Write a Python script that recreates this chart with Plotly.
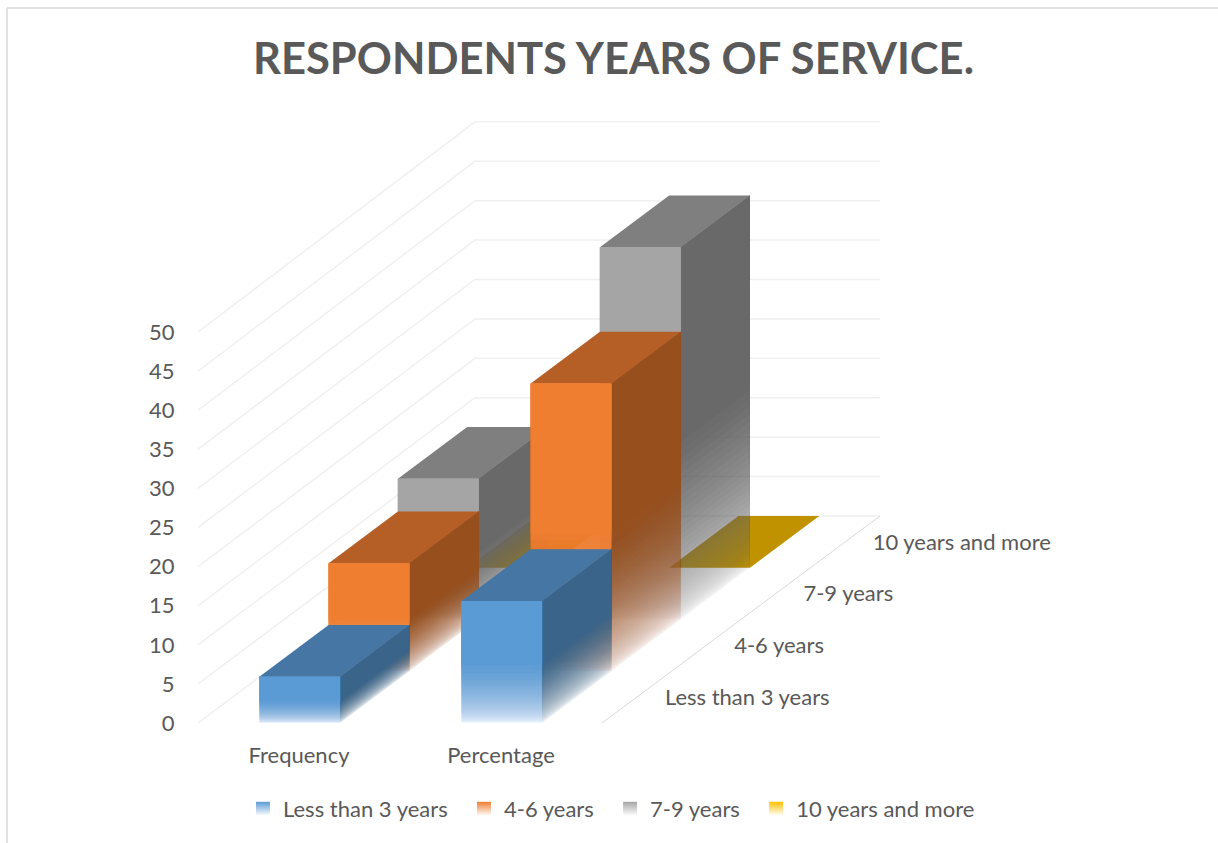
import plotly.graph_objects as go

# Chart content
title_text = "RESPONDENTS YEARS OF SERVICE."
categories = ["Frequency", "Percentage"]
series_names = ["Less than 3 years", "4-6 years", "7-9 years", "10 years and more"]
less_than_3 = [5.9, 15.6]
four_to_six = [13.8, 36.8]
seven_to_nine = [18, 47.6]
ten_and_more = [0, 0]
value_ticks = [0, 5, 10, 15, 20, 25, 30, 35, 40, 45, 50]

series_values = [less_than_3, four_to_six, seven_to_nine, ten_and_more]

# Face colours per series: front, top, side
front_colors = ["#5B9BD5", "#EF7E31", "#A5A5A5", "#FFC000"]
top_colors = ["#4676A3", "#B55F26", "#7F7F7F", "#C09200"]
side_colors = ["#3A6489", "#974F1D", "#696969", "#967000"]

TEXT = "#595959"
GRID = "#F0F0F0"
FONT = "Lato"

# Oblique projection: one depth step moves right (axis units) and up (value units)
PX_X = 202.0
PX_Y = 7.82
DEPTH_X = 69.25 / PX_X
DEPTH_Y = 51.75 / PX_Y
BAR_CENTER = 0.004
HALF_BAR = 0.2
WALL_LEFT = -0.5
WALL_RIGHT = 2.876
BACK_WALL_STRETCH = 1.008
FLOOR_RIGHT = 1.5
DEPTHS = len(series_names)
FADE_LAYERS = 40
FADE_POWER = 0.55

PLOT_LEFT = 198
PLOT_BOTTOM = 723
WIDTH, HEIGHT = 1218, 843


def hex_rgba(color, alpha):
    r, g, b = (int(color[i:i + 2], 16) for i in (1, 3, 5))
    return f"rgba({r},{g},{b},{alpha:.4f})"


def polygon(xs, ys, color):
    return go.Scatter(
        x=xs + xs[:1], y=ys + ys[:1], mode="lines", fill="toself", fillcolor=color,
        line=dict(width=0), hoverinfo="skip", showlegend=False,
    )


def fading_face(fig, quad, height, color):
    """Stack nested translucent quads so the lower half of a face fades out without seams."""
    fade = height / 2
    previous = 0.0
    for i in range(FADE_LAYERS):
        target = (i + 1) / FADE_LAYERS
        alpha = 1 - (1 - target) / (1 - previous)
        previous = target
        # Opacity rises steeply just above the floor and levels off towards the solid part
        level = fade * (i / FADE_LAYERS) ** (1 / FADE_POWER)
        xs, ys = quad(level)
        fig.add_trace(polygon(xs, ys, hex_rgba(color, alpha)))


fig = go.Figure()

# Side wall and back wall gridlines
for v in value_ticks:
    back_x = WALL_LEFT + DEPTHS * DEPTH_X
    back_y = v * BACK_WALL_STRETCH + DEPTHS * DEPTH_Y
    fig.add_trace(go.Scatter(
        x=[WALL_LEFT, back_x, WALL_RIGHT],
        y=[v, back_y, back_y], mode="lines",
        line=dict(color=GRID, width=1.5), hoverinfo="skip", showlegend=False,
    ))

# Right edge of the floor
fig.add_trace(go.Scatter(
    x=[FLOOR_RIGHT, WALL_RIGHT], y=[0, DEPTHS * DEPTH_Y], mode="lines",
    line=dict(color="#D9D9D9", width=1), hoverinfo="skip", showlegend=False,
))

# Columns, painted from the back row to the front row
for depth in range(DEPTHS - 1, -1, -1):
    values = series_values[depth]
    base_x = depth * DEPTH_X + BAR_CENTER
    base_y = depth * DEPTH_Y
    for cat, value in enumerate(values):
        left = cat - HALF_BAR + base_x
        right = cat + HALF_BAR + base_x
        top = base_y + value

        if value > 0:
            def side_quad(level, right=right, base_y=base_y, top=top):
                return ([right, right + DEPTH_X, right + DEPTH_X, right],
                        [base_y + level, base_y + level + DEPTH_Y, top + DEPTH_Y, top])
            fading_face(fig, side_quad, value, side_colors[depth])

        fig.add_trace(polygon(
            [left, right, right + DEPTH_X, left + DEPTH_X],
            [top, top, top + DEPTH_Y, top + DEPTH_Y],
            top_colors[depth],
        ))

        if value > 0:
            def front_quad(level, left=left, right=right, base_y=base_y, top=top):
                return ([left, right, right, left],
                        [base_y + level, base_y + level, top, top])
            fading_face(fig, front_quad, value, front_colors[depth])

# Row labels along the floor edge
fig.add_trace(go.Scatter(
    x=[FLOOR_RIGHT + (k + 0.5) * DEPTH_X + 0.14 for k in range(DEPTHS)],
    y=[(k + 0.5) * DEPTH_Y - 0.3 for k in range(DEPTHS)],
    mode="text", text=series_names, textposition="middle right",
    textfont=dict(family=FONT, size=22, color=TEXT),
    hoverinfo="skip", showlegend=False,
))

# Legend entries; the no-break spaces widen the gap to the next entry
for name, color in zip(series_names, front_colors):
    fig.add_trace(go.Scatter(
        x=[None], y=[None], mode="markers", name=name + "\u00a0\u00a0",
        marker=dict(symbol="square", size=14, color=color,
                    gradient=dict(type="vertical", color="#FFFFFF"), line=dict(width=0)),
    ))


def paper_x(px):
    return (px - PLOT_LEFT) / (WIDTH - PLOT_LEFT)


def paper_y(py):
    return (PLOT_BOTTOM - py) / PLOT_BOTTOM


# Chart frame, open at the right and bottom page edges
frame = dict(color="#D9D9D9", width=1.5)
fig.add_shape(type="line", xref="paper", yref="paper", line=frame,
              x0=paper_x(7), x1=paper_x(1218), y0=paper_y(8), y1=paper_y(8))
fig.add_shape(type="line", xref="paper", yref="paper", line=frame,
              x0=paper_x(7), x1=paper_x(7), y0=paper_y(8), y1=paper_y(843))

fig.update_layout(
    width=WIDTH, height=HEIGHT, autosize=False,
    margin=dict(l=PLOT_LEFT, r=0, t=0, b=HEIGHT - PLOT_BOTTOM, pad=0),
    paper_bgcolor="white", plot_bgcolor="white",
    title=dict(text=f"<b>{title_text}</b>", x=613.5 / WIDTH, xanchor="center",
               y=1 - 59 / HEIGHT, yanchor="middle", yref="container",
               font=dict(family=FONT, size=43.5, color=TEXT)),
    xaxis=dict(range=[WALL_LEFT, WALL_LEFT + (WIDTH - PLOT_LEFT) / PX_X], tickmode="array",
               tickvals=list(range(len(categories))), ticktext=categories,
               showgrid=False, zeroline=False, showline=False, ticks="outside", ticklen=13,
               tickcolor="rgba(0,0,0,0)", tickfont=dict(family=FONT, size=22, color=TEXT)),
    yaxis=dict(range=[0, PLOT_BOTTOM / PX_Y], tickmode="array", tickvals=value_ticks,
               showgrid=False, zeroline=False, showline=False, ticks="outside", ticklen=18,
               tickcolor="rgba(0,0,0,0)", tickfont=dict(family=FONT, size=22, color=TEXT)),
    legend=dict(orientation="h", x=paper_x(243), xanchor="left",
                y=paper_y(809), yanchor="middle", traceorder="normal",
                font=dict(family=FONT, size=22, color=TEXT),
                bgcolor="rgba(0,0,0,0)", itemclick=False, itemdoubleclick=False),
)

fig.write_html("out.html")
